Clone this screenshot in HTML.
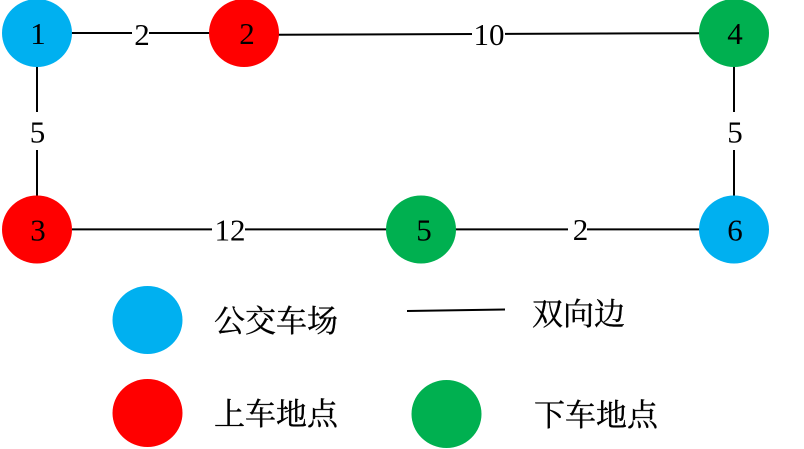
<!DOCTYPE html>
<html>
<head>
<meta charset="utf-8">
<style>
html,body{margin:0;padding:0;background:#fff;width:804px;height:449px;overflow:hidden}
svg{display:block}
text{font-family:"Liberation Serif","Noto Serif CJK SC",serif;fill:#000}
.n{font-size:31px;text-anchor:middle}
.c{font-size:31px;font-family:"Noto Serif CJK SC","Liberation Serif",serif;stroke:#000;stroke-width:.35px}
</style>
</head>
<body>
<svg width="804" height="449" viewBox="0 0 804 449" xmlns="http://www.w3.org/2000/svg">
<g stroke="#000" stroke-width="2" fill="none">
<line x1="70" y1="33" x2="212" y2="33"/>
<line x1="278" y1="34.7" x2="700" y2="33.2"/>
<line x1="37" y1="65" x2="37" y2="198"/>
<line x1="734" y1="65" x2="734" y2="198"/>
<line x1="72" y1="229.4" x2="388" y2="229.4"/>
<line x1="455" y1="229.4" x2="700" y2="229.4"/>
<line x1="407" y1="311" x2="505" y2="309.5"/>
</g>
<g fill="#fff">
<rect x="132" y="20" width="17" height="26"/>
<rect x="472" y="21" width="33" height="26"/>
<rect x="27" y="112" width="20" height="38"/>
<rect x="724" y="112" width="20" height="38"/>
<rect x="212" y="216" width="33" height="28"/>
<rect x="568" y="216" width="19" height="28"/>
</g>
<ellipse cx="37" cy="33" rx="35" ry="34" fill="#00b0f0"/>
<ellipse cx="244" cy="33" rx="35" ry="34" fill="#ff0000"/>
<ellipse cx="734" cy="33" rx="35" ry="34" fill="#00b050"/>
<ellipse cx="37" cy="229.5" rx="35" ry="34" fill="#ff0000"/>
<ellipse cx="421" cy="229.5" rx="35" ry="34" fill="#00b050"/>
<ellipse cx="734" cy="229.5" rx="35" ry="34" fill="#00b0f0"/>
<ellipse cx="147.5" cy="320" rx="35" ry="34" fill="#00b0f0"/>
<ellipse cx="147.5" cy="413" rx="35" ry="34" fill="#ff0000"/>
<ellipse cx="446.5" cy="414" rx="35" ry="34" fill="#00b050"/>
<text class="n" x="38" y="44">1</text>
<text class="n" x="247" y="44">2</text>
<text class="n" x="735" y="44">4</text>
<text class="n" x="38" y="240.5">3</text>
<text class="n" x="424" y="240.5">5</text>
<text class="n" x="735" y="240.5">6</text>
<text class="n" x="142" y="45">2</text>
<text class="n" x="489" y="45">10</text>
<text class="n" x="37.5" y="142.5">5</text>
<text class="n" x="735" y="142.5">5</text>
<text class="n" x="230" y="240.5">12</text>
<text class="n" x="580.5" y="240">2</text>
<text class="c" x="214" y="332">公交车场</text>
<text class="c" x="532" y="325">双向边</text>
<text class="c" x="214" y="425">上车地点</text>
<text class="c" x="534" y="426">下车地点</text>
</svg>
</body>
</html>
